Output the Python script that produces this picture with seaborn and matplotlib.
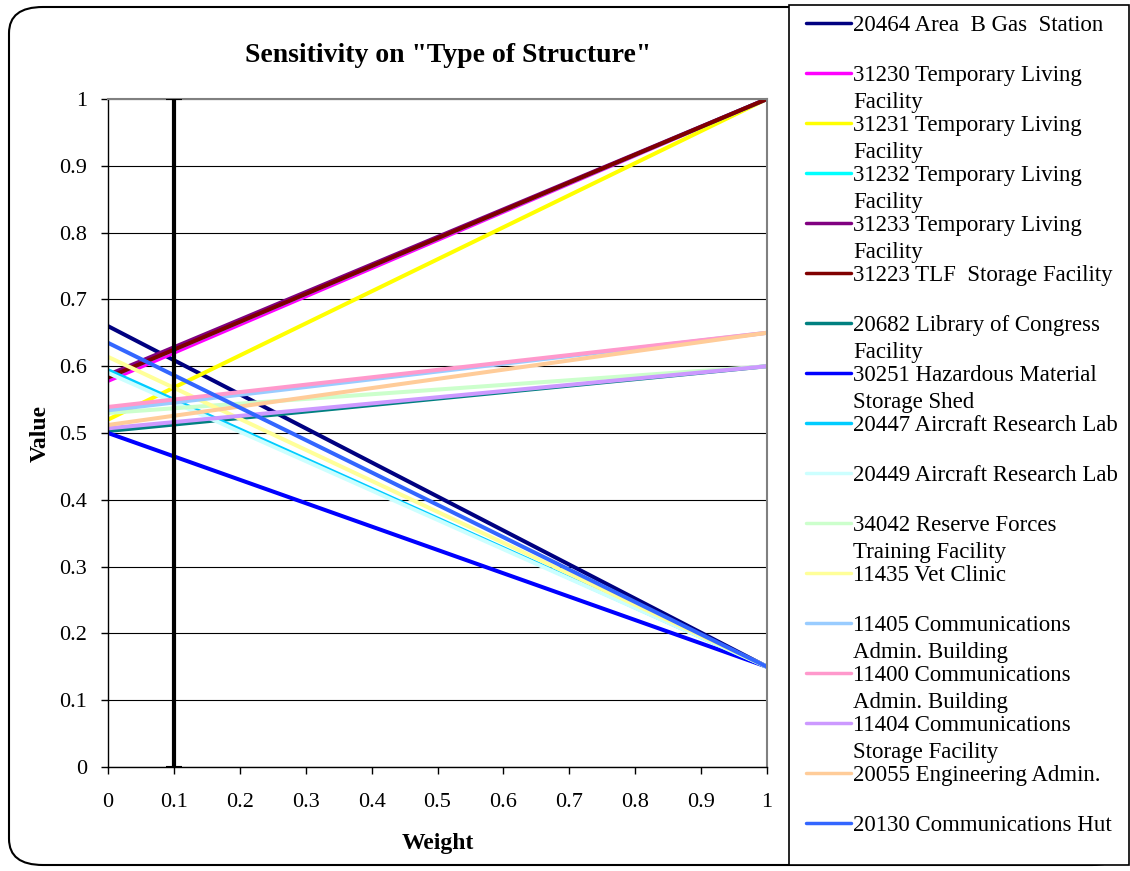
import numpy as np
import pandas as pd
import matplotlib.pyplot as plt
import seaborn as sns
from matplotlib.lines import Line2D
from matplotlib.patches import FancyBboxPatch, Rectangle
from matplotlib.ticker import FormatStrFormatter

# series names, start value (weight 0) and end value (weight 1)
names = ["20464 Area  B Gas  Station", "31230 Temporary Living\nFacility",
         "31231 Temporary Living\nFacility", "31232 Temporary Living\nFacility",
         "31233 Temporary Living\nFacility", "31223 TLF  Storage Facility",
         "20682 Library of Congress\nFacility", "30251 Hazardous Material\nStorage Shed",
         "20447 Aircraft Research Lab", "20449 Aircraft Research Lab",
         "34042 Reserve Forces\nTraining Facility", "11435 Vet Clinic",
         "11405 Communications\nAdmin. Building", "11400 Communications\nAdmin. Building",
         "11404 Communications\nStorage Facility", "20055 Engineering Admin.",
         "20130 Communications Hut"]
start_vals = [0.66, 0.578, 0.52, 0.583, 0.587, 0.583, 0.503, 0.50, 0.594, 0.59,
              0.53, 0.614, 0.534, 0.539, 0.507, 0.512, 0.635]
end_vals = [0.15, 1.0, 1.0, 1.0, 1.0, 1.0, 0.60, 0.15, 0.15, 0.15,
            0.60, 0.15, 0.65, 0.65, 0.60, 0.65, 0.15]
colors = ["#000080", "#FF00FF", "#FFFF00", "#00FFFF", "#800080", "#800000",
          "#008080", "#0000FF", "#00CCFF", "#CCFFFF", "#CCFFCC", "#FFFF99",
          "#99CCFF", "#FF99CC", "#CC99FF", "#FFCC99", "#3366FF"]
weights = [0.0, 1.0]
ticks = [0, 0.1, 0.2, 0.3, 0.4, 0.5, 0.6, 0.7, 0.8, 0.9, 1]
cur_weight = 0.1

rows = []
for n, s, e in zip(names, start_vals, end_vals):
    rows.append({"Weight": weights[0], "Value": s, "Series": n})
    rows.append({"Weight": weights[1], "Value": e, "Series": n})
df = pd.DataFrame(rows)

sns.set_style("white")
plt.rcParams['font.family'] = ['Liberation Serif', 'DejaVu Serif']
plt.rcParams['text.color'] = 'black'
plt.rcParams['axes.labelcolor'] = 'black'

fig = plt.figure(figsize=(11.3, 8.71), dpi=100)
W, H = 1130, 871

# outer rounded border
fig.patches.append(FancyBboxPatch((9 / W, 6 / H), 1117 / W, 858 / H,
                                  boxstyle="round,pad=0,rounding_size=0.03",
                                  transform=fig.transFigure, fc="white",
                                  ec="black", lw=1.5, zorder=-2))

ax = fig.add_axes([108 / W, 1 - 767 / H, 659 / W, 668 / H])
ax.set_zorder(3)
ax.set_facecolor("white")

sns.lineplot(data=df, x="Weight", y="Value", hue="Series",
             palette=dict(zip(names, colors)), hue_order=names,
             linewidth=2.9, legend=False, ax=ax)

ax.errorbar([cur_weight], [0.5], yerr=[0.5], color="black", lw=3,
            capsize=6, capthick=1.5, zorder=5)

ax.set_xlim(0, 1)
ax.set_ylim(0, 1)
ax.set_xticks(ticks)
ax.set_yticks(ticks)
ax.xaxis.set_major_formatter(FormatStrFormatter("%g"))
ax.yaxis.set_major_formatter(FormatStrFormatter("%g"))
ax.tick_params(axis="both", labelsize=16, length=5, width=1, direction="out",
               colors="black", bottom=True, left=True)
ax.tick_params(axis="x", pad=14)
ax.tick_params(axis="y", pad=10)
ax.grid(axis="y", color="black", lw=0.8)
for s in ["top", "right"]:
    ax.spines[s].set_color("#808080")
    ax.spines[s].set_linewidth(1.5)
for s in ["left", "bottom"]:
    ax.spines[s].set_color("black")
    ax.spines[s].set_linewidth(1)

ax.set_xlabel("Weight", fontsize=17, fontweight="bold", labelpad=15)
ax.set_ylabel("Value", fontsize=17, fontweight="bold", labelpad=6)
fig.text(448 / W, 1 - 55 / H, 'Sensitivity on "Type of Structure"',
         ha="center", va="center", fontsize=20, fontweight="bold")

# legend box
fig.patches.append(Rectangle((789 / W, 6 / H), 340 / W, 860 / H,
                             transform=fig.transFigure, fc="white",
                             ec="black", lw=1.2, zorder=-1))
for i, (n, c) in enumerate(zip(names, colors)):
    yc = 23 + 50 * i
    fig.add_artist(Line2D([806 / W, 851 / W], [1 - yc / H, 1 - yc / H],
                          transform=fig.transFigure, color=c, lw=2.5))
    fig.text(853 / W, 1 - (yc - 8) / H, n, ha="left", va="top",
             fontsize=16.5, linespacing=1.4)

fig.savefig("out.png", dpi=100)
